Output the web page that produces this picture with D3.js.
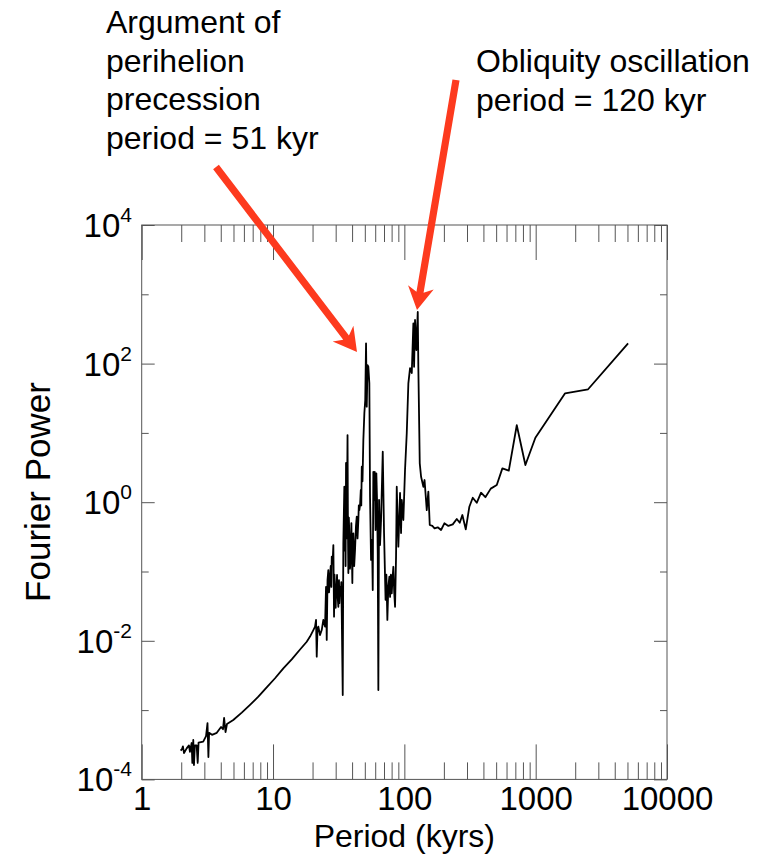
<!DOCTYPE html>
<html><head><meta charset="utf-8">
<script src="https://cdn.jsdelivr.net/npm/d3@7"></script>
<style>
body{margin:0;background:#fff}
svg{display:block}
text{font-family:"Liberation Sans",Helvetica,Arial,sans-serif;fill:#000}
</style>
</head><body>
<svg id="chart" width="775" height="854"></svg>
<script>
// ---- data ----
const periods = [1.98,2.03,2.06,2.10,2.20,2.29,2.33,2.40,2.43,2.47,2.50,2.54,2.62,2.67,2.71,2.94,3.09,3.17,3.22,3.26,3.43,3.73,4.02,4.16,4.24,4.35,4.46,4.98,5.78,6.68,7.73,8.95,10.36,11.98,13.88,16.06,18.06,19.13,20.28,20.89,21.26,21.52,21.83,22.13,22.80,23.49,24.16,24.89,25.33,25.64,26.0,26.37,26.7,27.17,27.5,27.8,28.00,28.4,28.80,29.15,29.4,29.67,30.0,30.19,30.5,30.72,31.0,31.43,31.8,32.0,32.38,32.8,33.1,33.36,33.95,34.30,34.91,35.2,35.47,35.7,35.97,36.3,36.6,36.93,37.2,37.46,37.8,38.26,38.6,39.06,39.5,40.18,40.5,40.89,41.5,42.12,42.8,43.41,44.0,44.65,45.0,45.44,45.99,46.6,47.0,47.39,48.0,48.73,49.60,50.37,51.09,51.72,52.45,53.19,54.13,54.79,55.77,56.75,57.45,58.06,58.77,59.51,60.35,61.2,61.95,62.71,63.39,64.17,65.30,66.46,68.48,70.06,71.93,73.0,74.24,75.5,76.88,77.84,79.0,80.17,81.3,82.45,83.7,84.95,86.45,87.51,90.03,92.74,94.38,95.56,98.26,101.2,104.3,107.3,110.5,113.9,117.1,118.6,120.6,123.4,126.5,127.8,131.0,134.1,139.6,142.5,148.1,152.3,156.1,163.4,169.8,179.6,190.3,201.7,216.3,233.7,250.7,264.2,276.5,293.5,312.6,331.8,355.9,383.7,414.0,455.0,505.5,557.7,624.2,717.9,834.9,994.8,1276,1675,2507,5055];
const power = [2.6e-4,2.75e-4,3.0e-4,2.4e-4,2.8e-4,3.1e-4,2.5e-4,3.35e-4,1.73e-4,3.7e-4,1.61e-4,3.1e-4,3.1e-4,1.73e-4,3.4e-4,3.5e-4,4.2e-4,6.5e-4,2.1e-4,4.7e-4,4.4e-4,4.7e-4,5.7e-4,5.3e-4,7.7e-4,4.8e-4,6.3e-4,7.2e-4,9.2e-4,1.19e-3,1.56e-3,2.13e-3,2.88e-3,4.0e-3,5.4e-3,7.5e-3,9.7e-3,1.15e-2,1.43e-2,1.60e-2,2.0e-2,5.9e-3,1.53e-2,1.60e-2,1.21e-2,1.43e-2,2.0e-2,1.60e-2,6.0e-2,1.03e-2,7.5e-2,0.105,0.05,0.084,0.12,0.06,0.164,0.13,0.241,0.0223,0.09,0.039,0.03,0.0484,0.07,0.089,0.045,0.031,0.075,0.035,0.060,0.045,0.07,0.0249,1.65e-3,0.255,1.67,0.2,0.77,0.12,3.68,0.3,1.0,9.3,0.4,0.095,0.6,0.258,0.11,0.204,0.5,0.068,0.3,0.356,0.12,0.204,0.45,0.62,0.3,0.553,0.9,0.77,0.91,1.5,0.9,3.25,2.0,7.9,19.2,29.8,196,23.9,95,90,52,1.20,0.147,0.285,0.054,2.73,1.08,2.73,0.397,2.61,1.08,0.185,1.95e-3,1.08,0.241,0.553,5.35,0.356,0.039,0.09,0.020,0.06,0.084,0.043,0.09,0.0484,0.08,0.117,0.05,0.031,0.164,1.67,0.228,1.36,0.359,1.08,0.553,2.92,9.9,52,86,73,380,90,426,157,556,90,3.64,2.33,1.67,2.09,0.77,1.42,0.469,0.454,0.42,0.434,0.397,0.496,0.454,0.479,0.573,0.506,0.653,0.406,0.861,1.16,0.98,1.37,1.18,1.57,1.77,3.08,2.85,12.9,3.44,8.53,17.3,37.3,42.6,196];

const xMajorTicks = [1,10,100,1000,10000];
const xTickLabels = ["1","10","100","1000","10000"];
const yMajorExponents = [-4,-2,0,2,4];
const yMinorExponents = [-3,-1,1,3];

const annotationLines = [
  {lines:["Argument of","perihelion","precession","period = 51 kyr"], x:106, y:33},
  {lines:["Obliquity oscillation","period = 120 kyr"], x:476, y:72}
];
const arrows = [
  {from:[216,167], to:[357,352]},
  {from:[456,80], to:[417,310]}
];

// ---- layout ----
const L = 141.7, R = 667, T = 225, B = 779.4;
const FONT = '"Liberation Sans",Helvetica,Arial,sans-serif';
const svg = d3.select("#chart");

const x = d3.scaleLog().domain([1,10000]).range([L,R]);
const y = d3.scaleLog().domain([1e-4,1e4]).range([B,T]);

const xMinor = [];
for (let d = 1; d < 10000; d *= 10) for (let m = 2; m <= 9; m++) xMinor.push(d*m);
const tickColor = "#555";

function styleAxis(g){
  g.select(".domain").remove();
  g.selectAll(".tick line").attr("stroke", tickColor).attr("stroke-width",1);
}

// x axes: bottom & top, major long, minor short, pointing inward
svg.append("g").attr("transform",`translate(0,${B})`)
  .call(d3.axisBottom(x).tickValues(xMinor).tickSize(-17).tickFormat(""))
  .call(styleAxis);
svg.append("g").attr("transform",`translate(0,${B})`)
  .call(d3.axisBottom(x).tickValues(xMajorTicks).tickSize(-35).tickPadding(7)
        .tickFormat((d,i)=>xTickLabels[i]))
  .call(styleAxis)
  .call(g=>g.selectAll(".tick text").attr("font-size",33).attr("fill","#000")
        .attr("font-family",FONT));
svg.append("g").attr("transform",`translate(0,${T})`)
  .call(d3.axisTop(x).tickValues(xMinor).tickSize(-17).tickFormat(""))
  .call(styleAxis);
svg.append("g").attr("transform",`translate(0,${T})`)
  .call(d3.axisTop(x).tickValues(xMajorTicks).tickSize(-35).tickFormat(""))
  .call(styleAxis);

// y axes
const yMaj = yMajorExponents.map(e=>Math.pow(10,e));
const yMin = yMinorExponents.map(e=>Math.pow(10,e));
svg.append("g").attr("transform",`translate(${L},0)`)
  .call(d3.axisLeft(y).tickValues(yMaj).tickSize(-13).tickFormat("")).call(styleAxis);
svg.append("g").attr("transform",`translate(${L},0)`)
  .call(d3.axisLeft(y).tickValues(yMin).tickSize(-7).tickFormat("")).call(styleAxis);
svg.append("g").attr("transform",`translate(${R},0)`)
  .call(d3.axisRight(y).tickValues(yMaj).tickSize(-13).tickFormat("")).call(styleAxis);
svg.append("g").attr("transform",`translate(${R},0)`)
  .call(d3.axisRight(y).tickValues(yMin).tickSize(-7).tickFormat("")).call(styleAxis);

// frame
svg.append("rect").attr("x",L).attr("y",T).attr("width",R-L).attr("height",B-T)
  .attr("fill","none").attr("stroke",tickColor).attr("stroke-width",1);

// y tick labels 10^n
const yl = svg.append("g");
yMajorExponents.forEach(e=>{
  const t = yl.append("text").attr("x",132).attr("y",y(Math.pow(10,e))+12)
    .attr("text-anchor","end").attr("font-size",33);
  t.append("tspan").text("10");
  t.append("tspan").attr("dy",-15).attr("font-size",21).text(String(e));
});

// line
const pts = periods.map((p,i)=>[p,power[i]]);
svg.append("path").datum(pts)
  .attr("fill","none").attr("stroke","#000").attr("stroke-width",1.8)
  .attr("stroke-linejoin","round")
  .attr("d", d3.line().x(d=>x(d[0])).y(d=>y(d[1])));

// axis titles
svg.append("text").attr("x",(L+R)/2).attr("y",847).attr("text-anchor","middle")
  .attr("font-size",32).text("Period (kyrs)");
svg.append("text").attr("transform",`translate(50,492) rotate(-90)`)
  .attr("text-anchor","middle").attr("font-size",35).text("Fourier Power");

// annotations
annotationLines.forEach(a=>{
  a.lines.forEach((s,i)=>{
    svg.append("text").attr("x",a.x).attr("y",a.y+i*38.5).attr("font-size",32).text(s);
  });
});

// arrows
const red = "#fd3a1e";
arrows.forEach(a=>{
  const [x0,y0]=a.from, [x1,y1]=a.to;
  const dx=x1-x0, dy=y1-y0, len=Math.hypot(dx,dy);
  const ux=dx/len, uy=dy/len, nx=-uy, ny=ux;
  const w=3.6, hl=23, hw=13, neck=18;
  const P=(s,t)=>[x0+ux*s+nx*t, y0+uy*s+ny*t];
  const poly=[P(0,w),P(len-neck,w),P(len-hl,hw),P(len,0),P(len-hl,-hw),P(len-neck,-w),P(0,-w)];
  svg.append("path").attr("d","M"+poly.map(p=>p.join(",")).join("L")+"Z").attr("fill",red);
});
</script>
</body></html>
